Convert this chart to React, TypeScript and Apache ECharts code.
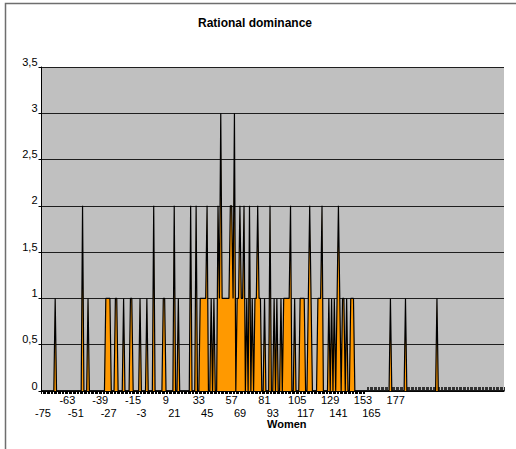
import React, { useEffect, useRef } from 'react';
import * as echarts from 'echarts';

// Category axis: integer scores
const FIRST_CATEGORY = -79;
const LAST_CATEGORY = 259;
const categories: number[] = Array.from(
  { length: LAST_CATEGORY - FIRST_CATEGORY + 1 },
  (_, i) => FIRST_CATEGORY + i
);

// Labelled categories (every 12th, shown in two staggered rows)
const LABEL_START = -75;
const LABEL_STEP = 12;
const LABEL_END = 177;
// ticks below the axis up to this category, short inner ticks after it
const TICK_SPLIT = 157;

// Non-zero counts: [category, count]
const nonZeroCounts: [number, number][] = [
  [-69, 1], [-49, 2], [-45, 1],
  [-32, 1], [-31, 1], [-30, 1], [-29, 1],
  [-25, 1], [-24, 1], [-19, 1], [-14, 1], [-13, 1],
  [-7, 1], [-2, 1], [3, 2], [10, 1], [11, 1],
  [18, 2], [21, 1], [30, 2], [34, 2],
  [37, 1], [38, 1], [39, 1], [40, 1], [41, 1], [42, 2], [45, 1], [47, 1],
  [50, 2], [51, 1], [52, 3], [53, 1], [54, 1], [55, 1], [56, 1], [57, 1],
  [58, 1], [59, 2], [60, 2], [61, 1], [62, 3], [64, 1], [65, 1],
  [66, 2], [67, 1], [68, 1], [69, 2], [71, 1], [73, 2], [75, 1],
  [77, 1], [78, 1], [79, 2], [80, 1], [81, 1], [84, 1], [88, 2],
  [91, 1], [93, 1], [96, 1], [98, 1], [99, 1], [100, 1], [101, 1], [102, 1],
  [103, 2], [106, 1], [110, 1], [111, 1], [112, 1], [113, 1],
  [116, 1], [117, 2], [118, 1],
  [123, 1], [124, 1], [125, 1], [126, 2],
  [131, 1], [133, 1], [135, 1], [137, 1], [138, 2], [139, 1],
  [141, 1], [142, 1], [144, 1], [147, 1], [148, 1], [149, 1],
  [176, 1], [187, 1], [210, 1],
];

const Y_MIN = 0;
const Y_MAX = 3.5;
const Y_STEP = 0.5;

const TITLE = 'Rational dominance';
const X_NAME = 'Women';

const FONT = 'Arial, "Liberation Sans", Helvetica, sans-serif';

export default function App() {
  const ref = useRef<HTMLDivElement>(null);

  useEffect(() => {
    document.body.style.margin = '0';
    if (!ref.current) return;
    const chart = echarts.init(ref.current, null, { renderer: 'svg' });

    const countMap = new Map<number, number>(nonZeroCounts);
    const values = categories.map((c) => countMap.get(c) ?? 0);
    const catStrings = categories.map(String);

    const labelRow = (v: number) =>
      v >= LABEL_START && v <= LABEL_END && (v - LABEL_START) % LABEL_STEP === 0
        ? ((v - LABEL_START) / LABEL_STEP) % 2
        : -1;

    const labelStyle = {
      fontFamily: FONT,
      fontSize: 11,
      lineHeight: 11,
      color: '#000',
    };

    const option: echarts.EChartsOption = {
      animation: false,
      backgroundColor: '#ffffff',
      title: {
        text: TITLE,
        left: 250,
        top: 12,
        textAlign: 'center',
        textStyle: { fontSize: 12, fontWeight: 'bold', fontFamily: FONT, color: '#000' },
      },
      graphic: [
        {
          type: 'rect',
          shape: { x: 5.5, y: 3.5, width: 530, height: 470 },
          style: { fill: 'none', stroke: '#6e6e6e', lineWidth: 1.5 },
          silent: true,
        },
      ],
      grid: {
        left: 41.5,
        right: 12,
        top: 67,
        bottom: 58,
        show: true,
        backgroundColor: '#C0C0C0',
        borderWidth: 0,
      },
      xAxis: [
        {
          type: 'category',
          data: catStrings,
          boundaryGap: false,
          name: X_NAME,
          nameLocation: 'middle',
          nameGap: 27,
          nameMoveOverlap: false,
          nameTextStyle: {
            fontFamily: FONT,
            fontSize: 11,
            lineHeight: 11,
            fontWeight: 'bold',
            color: '#000',
            padding: [0, 0, 0, 28],
          },
          axisLine: { show: true, lineStyle: { color: '#000', width: 1.5 } },
          axisTick: {
            show: true,
            length: 3,
            interval: (i: number) => categories[i] <= TICK_SPLIT,
            lineStyle: { color: '#000', width: 1 },
          },
          axisLabel: {
            show: true,
            interval: (i: number) => labelRow(categories[i]) === 1,
            margin: 3,
            ...labelStyle,
            padding: [0, 0, 0, 8],
          },
          splitLine: { show: false },
        } as any,
        {
          type: 'category',
          data: catStrings,
          boundaryGap: false,
          position: 'bottom',
          axisLine: { show: false },
          axisTick: {
            show: true,
            inside: true,
            length: 4,
            interval: (i: number) => categories[i] > TICK_SPLIT + 1,
            lineStyle: { color: '#333', width: 1 },
          },
          axisLabel: {
            show: true,
            interval: (i: number) => labelRow(categories[i]) === 0,
            margin: 16.5,
            ...labelStyle,
            padding: [0, 8, 0, 0],
          },
          splitLine: { show: false },
        },
      ],
      yAxis: {
        type: 'value',
        min: Y_MIN,
        max: Y_MAX,
        interval: Y_STEP,
        axisLine: { show: true, lineStyle: { color: '#000', width: 1 } },
        axisTick: { show: true, length: 3, lineStyle: { color: '#000' } },
        axisLabel: {
          margin: 4,
          fontFamily: FONT,
          fontSize: 11,
          color: '#000',
          verticalAlign: 'bottom',
          formatter: (v: number) => String(v).replace('.', ','),
        },
        splitLine: { show: true, lineStyle: { color: '#1e1e1e', width: 1 } },
      },
      series: [
        {
          type: 'line',
          xAxisIndex: 0,
          data: values,
          symbol: 'none',
          smooth: false,
          lineStyle: { color: '#000', width: 1.2 },
          areaStyle: { color: '#FF9900', opacity: 1 },
        },
      ],
    };

    chart.setOption(option);
    return () => chart.dispose();
  }, []);

  return <div ref={ref} style={{ width: 516, height: 449 }} />;
}
